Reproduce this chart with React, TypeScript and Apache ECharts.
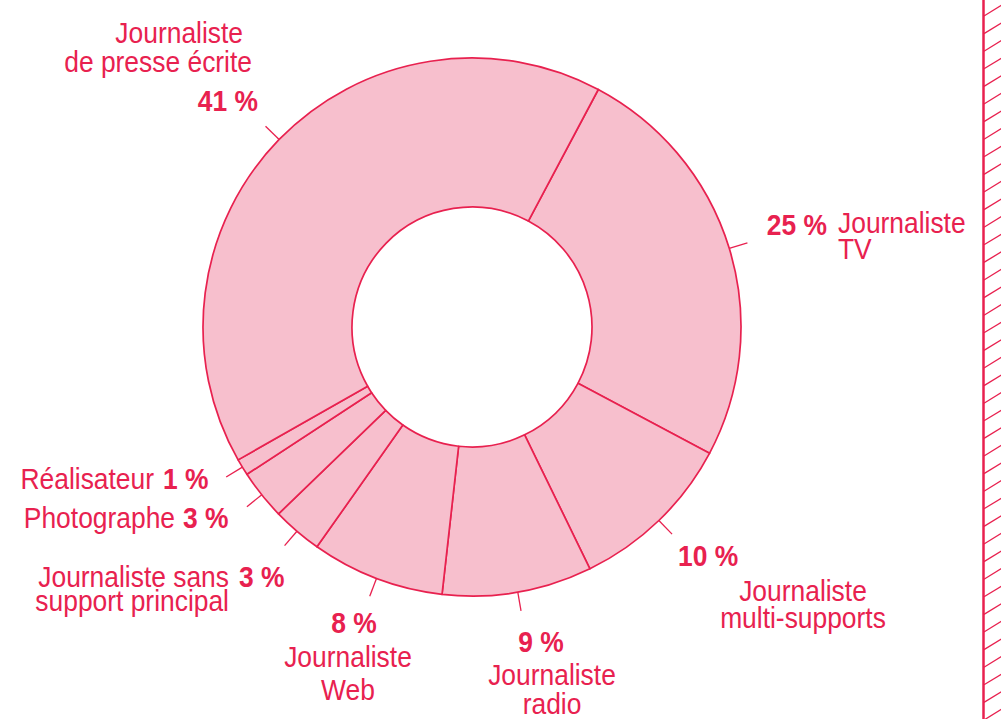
import React, { useEffect, useRef } from 'react';
import * as echarts from 'echarts';

// ---- data ----
const categories = [
  'Journaliste TV',
  'Journaliste multi-supports',
  'Journaliste radio',
  'Journaliste Web',
  'Journaliste sans support principal',
  'Photographe',
  'Réalisateur',
  'Journaliste de presse écrite',
];
const values = [25, 10, 9, 8, 3, 3, 1, 41];
const nameLines = [
  ['Journaliste', 'TV'],
  ['Journaliste', 'multi-supports'],
  ['Journaliste', 'radio'],
  ['Journaliste', 'Web'],
  ['Journaliste sans', 'support principal'],
  ['Photographe'],
  ['Réalisateur'],
  ['Journaliste', 'de presse écrite'],
];

// ---- label layout (separate from data) ----
// percentage text: [x, y, align]
const pctPos: [number, number, string][] = [
  [827, 224, 'right'],
  [678, 555, 'left'],
  [541, 641, 'center'],
  [354, 622, 'center'],
  [239, 576, 'left'],
  [183, 517, 'left'],
  [163, 478, 'left'],
  [258, 100, 'right'],
];
// name block: [x, y of middle, align, lineHeight, splitLines]
const namePos: [number, number, string, number, boolean][] = [
  [838, 235, 'left', 26, false],
  [803, 603.5, 'center', 27, false],
  [552, 689, 'center', 29, false],
  [348, 672.5, 'center', 33, false],
  [229, 588, 'right', 24, false],
  [175, 517, 'right', 30, false],
  [154, 478, 'right', 30, false],
  [0, 0, 'right', 29, true],
];
// presse écrite lines are placed separately (different right edges)
const splitLinePos: [number, number][] = [
  [243, 32],
  [252, 61],
];

const RED = '#e8214f';
const PINK = '#f7bfcd';
const FONT_FAMILY = "'Liberation Sans', Arial, sans-serif";
const FONT_SIZE = 30;
const SX = 0.88;

function textEl(
  text: string,
  x: number,
  y: number,
  align: string,
  bold: boolean,
  lineHeight?: number
) {
  return {
    type: 'text',
    x,
    y,
    scaleX: SX,
    scaleY: 1,
    silent: true,
    style: {
      text,
      fill: RED,
      font: `${bold ? 'bold ' : ''}${FONT_SIZE}px ${FONT_FAMILY}`,
      lineHeight: lineHeight || FONT_SIZE,
      align,
      textAlign: align,
      verticalAlign: 'middle',
      textVerticalAlign: 'middle',
    },
  };
}

export default function App() {
  const ref = useRef<HTMLDivElement>(null);
  useEffect(() => {
    if (!ref.current) return;
    const chart = echarts.init(ref.current, undefined, { renderer: 'svg' });

    const labels: any[] = [];
    categories.forEach((_, i) => {
      const p = pctPos[i];
      labels.push(textEl(`${values[i]} %`, p[0], p[1], p[2], true));
      const q = namePos[i];
      if (q[4]) {
        nameLines[i].forEach((line, j) => {
          const s = splitLinePos[j];
          labels.push(textEl(line, s[0], s[1], q[2], false));
        });
      } else {
        labels.push(textEl(nameLines[i].join('\n'), q[0], q[1], q[2], false, q[3]));
      }
    });

    const hatch: any[] = [];
    hatch.push({
      type: 'line',
      silent: true,
      shape: { x1: 983.5, y1: 0, x2: 983.5, y2: 719 },
      style: { stroke: RED, lineWidth: 2.5 },
    });
    for (let y = 5; y < 740; y += 17.6) {
      hatch.push({
        type: 'line',
        silent: true,
        shape: { x1: 984, y1: y + 11, x2: 1002, y2: y },
        style: { stroke: RED, lineWidth: 1.3 },
      });
    }

    chart.setOption({
      animation: false,
      backgroundColor: '#ffffff',
      series: [
        {
          type: 'pie',
          center: [472, 327],
          radius: [120, 269],
          startAngle: 62,
          clockwise: true,
          avoidLabelOverlap: false,
          silent: true,
          itemStyle: { color: PINK, borderColor: RED, borderWidth: 1.7 },
          label: { show: true, position: 'outside', formatter: ' ', fontSize: 10 },
          labelLine: {
            show: true,
            length: 19,
            length2: 0,
            lineStyle: { color: RED, width: 1.3 },
          },
          emphasis: { disabled: true },
          data: categories.map((name, i) => ({ name, value: values[i] })),
        },
      ],
      graphic: [...labels, ...hatch],
    });
    return () => chart.dispose();
  }, []);
  return (
    <div
      ref={ref}
      style={{ position: 'fixed', left: 0, top: 0, width: 1001, height: 719 }}
    />
  );
}
